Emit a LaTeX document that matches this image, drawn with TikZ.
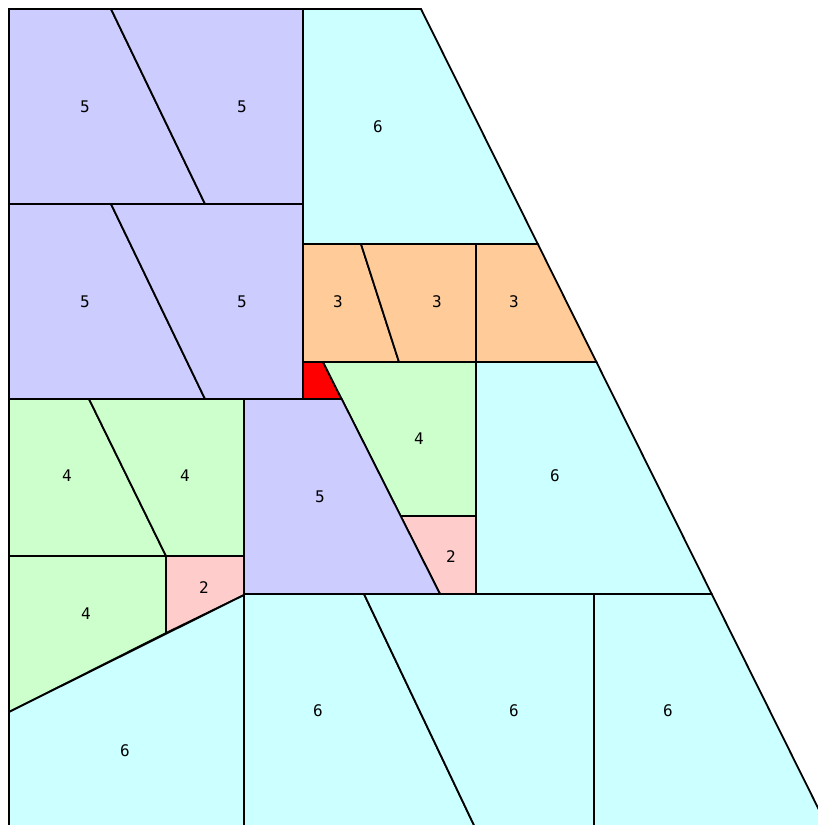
\documentclass[tikz,border=0pt]{standalone}
\usepackage{fontspec}
\newfontfamily\digitfont{DejaVu Sans Mono}
\definecolor{lav}{HTML}{CCCCFF}
\definecolor{cya}{HTML}{CCFFFF}
\definecolor{ora}{HTML}{FFCC99}
\definecolor{grn}{HTML}{CCFFCC}
\definecolor{pnk}{HTML}{FFCCCC}
\definecolor{rd}{HTML}{FF0000}
\tikzset{
  region/.style={draw=black, line width=1.8pt, line join=miter},
  lbl/.style={font=\digitfont\fontsize{16}{16}\selectfont, inner sep=0pt, text=black}
}
\begin{document}
\begin{tikzpicture}[x=1pt,y=-1pt]
\useasboundingbox (0,0) rectangle (818,825);
\fill[white] (0,0) rectangle (818,825);
\begin{scope}
\clip (0,0) rectangle (818,825);
% top 5s
\filldraw[region, fill=lav] (9,9) -- (111,9) -- (205,204) -- (9,204) -- cycle;
\filldraw[region, fill=lav] (111,9) -- (303,9) -- (303,204) -- (205,204) -- cycle;
\filldraw[region, fill=cya] (303,9) -- (421,9) -- (537.8,244) -- (303,244) -- cycle;
% middle 5s
\filldraw[region, fill=lav] (9,204) -- (111,204) -- (205,399) -- (9,399) -- cycle;
\filldraw[region, fill=lav] (111,204) -- (303,204) -- (303,399) -- (205,399) -- cycle;
% orange 3s
\filldraw[region, fill=ora] (303,244) -- (361,244) -- (399,362) -- (303,362) -- cycle;
\filldraw[region, fill=ora] (361,244) -- (476,244) -- (476,362) -- (399,362) -- cycle;
\filldraw[region, fill=ora] (476,244) -- (537.8,244) -- (596.4,362) -- (476,362) -- cycle;
% red
\filldraw[region, fill=rd] (303,362) -- (323,362) -- (341.7,399) -- (303,399) -- cycle;
% upper-middle green and pink
\filldraw[region, fill=grn] (323,362) -- (476,362) -- (476,516) -- (400.6,516) -- cycle;
\filldraw[region, fill=pnk] (400.6,516) -- (476,516) -- (476,594) -- (440,594) -- cycle;
% right 6
\filldraw[region, fill=cya] (476,362) -- (596.4,362) -- (711.7,594) -- (476,594) -- cycle;
% middle 5 lower
\filldraw[region, fill=lav] (244,399) -- (341.7,399) -- (440,594) -- (244,594) -- cycle;
% left greens
\filldraw[region, fill=grn] (9,399) -- (89,399) -- (166,556) -- (9,556) -- cycle;
\filldraw[region, fill=grn] (89,399) -- (244,399) -- (244,556) -- (166,556) -- cycle;
\filldraw[region, fill=grn] (9,556) -- (166,556) -- (166,633) -- (9,712) -- cycle;
\filldraw[region, fill=pnk] (166,556) -- (244,556) -- (244,595) -- (166,633) -- cycle;
% bottom 6s
\filldraw[region, fill=cya] (9,712) -- (244,595) -- (244,840) -- (9,840) -- cycle;
\filldraw[region, fill=cya] (244,594) -- (364,594) -- (481,840) -- (244,840) -- cycle;
\filldraw[region, fill=cya] (364,594) -- (594,594) -- (594,840) -- (481,840) -- cycle;
\filldraw[region, fill=cya] (594,594) -- (711.7,594) -- (834,840) -- (594,840) -- cycle;
\end{scope}
% labels
\node[lbl] (l1) at (85,107) {5};
\node[lbl] (l2) at (242,107) {5};
\node[lbl] (l3) at (378,127) {6};
\node[lbl] (l4) at (85,302) {5};
\node[lbl] (l5) at (242,302) {5};
\node[lbl] (l6) at (338,302) {3};
\node[lbl] (l7) at (437,302) {3};
\node[lbl] (l8) at (514,302) {3};
\node[lbl] (l9) at (419,439) {4};
\node[lbl] (l10) at (555,476) {6};
\node[lbl] (l11) at (67,476) {4};
\node[lbl] (l12) at (185,476) {4};
\node[lbl] (l13) at (320,497) {5};
\node[lbl] (l14) at (451,557) {2};
\node[lbl] (l15) at (86,614) {4};
\node[lbl] (l16) at (204,588) {2};
\node[lbl] (l17) at (125,751) {6};
\node[lbl] (l18) at (318,711) {6};
\node[lbl] (l19) at (514,711) {6};
\node[lbl] (l20) at (668,711) {6};
\end{tikzpicture}
\end{document}
